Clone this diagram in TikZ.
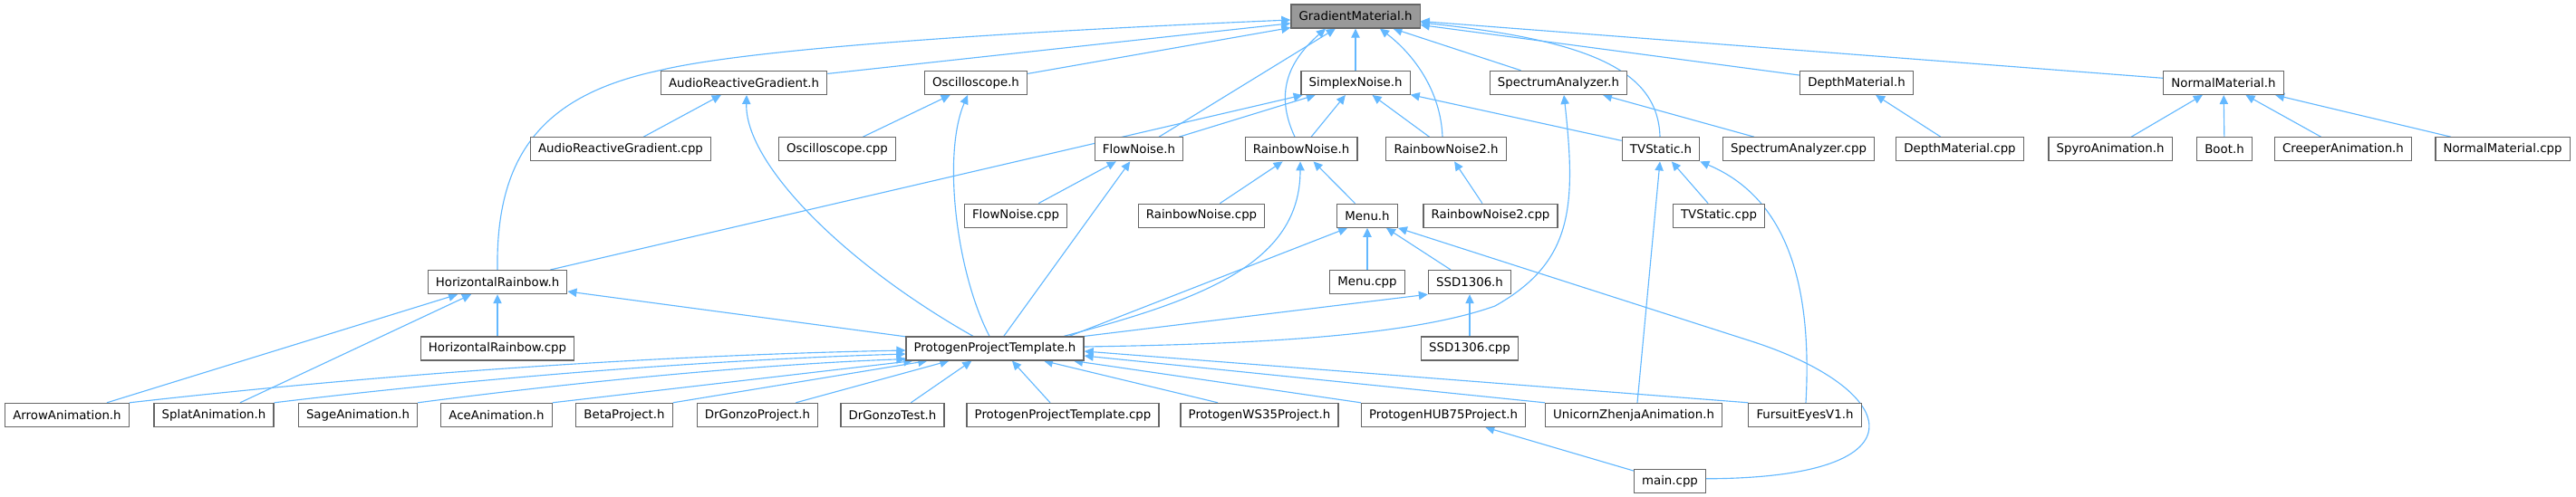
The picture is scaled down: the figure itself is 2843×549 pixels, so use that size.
\documentclass[tikz,border=0pt]{standalone}
\usepackage{fontspec}
\setmainfont{DejaVu Sans}
\usetikzlibrary{arrows.meta,calc}
\definecolor{edgeblue}{RGB}{99,184,255}
\definecolor{boxborder}{RGB}{102,102,102}
\definecolor{rootfill}{RGB}{153,153,153}
\pgfdeclarelayer{bg}
\pgfsetlayers{bg,main}
\begin{document}
\begin{tikzpicture}[x=0.75pt,y=-0.75pt,
  box/.style={draw=boxborder, line width=0.9pt, fill=white, minimum height=19.5pt,
    inner xsep=6.5pt, inner ysep=0pt, font=\fontsize{10pt}{12pt}\selectfont},
  root/.style={box, fill=rootfill},
  edge/.style={draw=edgeblue, line width=0.85pt, -{Triangle[length=7.5pt,width=7pt]}}]
\useasboundingbox (0,0) rectangle (2843,549);
% row 0
\node[root] (gm) at (1496,18) {GradientMaterial.h};
% row 1
\node[box] (argh) at (821,91.4) {AudioReactiveGradient.h};
\node[box] (osch) at (1077,91.4) {Oscilloscope.h};
\node[box] (snh) at (1496,91.4) {SimplexNoise.h};
\node[box] (sah) at (1720,91.4) {SpectrumAnalyzer.h};
\node[box] (dmh) at (2049,91.4) {DepthMaterial.h};
\node[box] (nmh) at (2454,91.4) {NormalMaterial.h};
% row 2
\node[box] (argc) at (685,164.8) {AudioReactiveGradient.cpp};
\node[box] (oscc) at (924,164.8) {Oscilloscope.cpp};
\node[box] (fnh) at (1257,164.8) {FlowNoise.h};
\node[box] (rnh) at (1436,164.8) {RainbowNoise.h};
\node[box] (rn2h) at (1596,164.8) {RainbowNoise2.h};
\node[box] (tvh) at (1833,164.8) {TVStatic.h};
\node[box] (sac) at (1985,164.8) {SpectrumAnalyzer.cpp};
\node[box] (dmc) at (2163,164.8) {DepthMaterial.cpp};
\node[box] (spyro) at (2329,164.8) {SpyroAnimation.h};
\node[box] (boot) at (2455,164.8) {Boot.h};
\node[box] (creeper) at (2586,164.8) {CreeperAnimation.h};
\node[box] (nmc) at (2762,164.8) {NormalMaterial.cpp};
% row 3
\node[box] (fnc) at (1121,238.2) {FlowNoise.cpp};
\node[box] (rnc) at (1326,238.2) {RainbowNoise.cpp};
\node[box] (menuh) at (1509,238.2) {Menu.h};
\node[box] (rn2c) at (1645,238.2) {RainbowNoise2.cpp};
\node[box] (tvc) at (1897,238.2) {TVStatic.cpp};
% row 4
\node[box] (hrh) at (549,311.6) {HorizontalRainbow.h};
\node[box] (menuc) at (1509,311.6) {Menu.cpp};
\node[box] (ssdh) at (1622,311.6) {SSD1306.h};
% row 5
\node[box] (hrc) at (549,385) {HorizontalRainbow.cpp};
\node[box] (ppth) at (1098,385) {ProtogenProjectTemplate.h};
\node[box] (ssdc) at (1622,385) {SSD1306.cpp};
% row 6
\node[box] (arrow) at (74,458.4) {ArrowAnimation.h};
\node[box] (splat) at (236,458.4) {SplatAnimation.h};
\node[box] (sage) at (395,458.4) {SageAnimation.h};
\node[box] (ace) at (548,458.4) {AceAnimation.h};
\node[box] (beta) at (689,458.4) {BetaProject.h};
\node[box] (drgp) at (836,458.4) {DrGonzoProject.h};
\node[box] (drgt) at (985,458.4) {DrGonzoTest.h};
\node[box] (pptc) at (1173,458.4) {ProtogenProjectTemplate.cpp};
\node[box] (ws35) at (1390,458.4) {ProtogenWS35Project.h};
\node[box] (hub75) at (1593,458.4) {ProtogenHUB75Project.h};
\node[box] (unicorn) at (1803,458.4) {UnicornZhenjaAnimation.h};
\node[box] (fursuit) at (1992,458.4) {FursuitEyesV1.h};
% row 7
\node[box] (mainc) at (1843,531.8) {main.cpp};

\begin{pgfonlayer}{bg}
% children of GradientMaterial.h
\draw[edge] (argh) -- (gm);
\draw[edge] (osch) -- (gm);
\draw[edge] (snh) -- (gm);
\draw[edge] (sah) -- (gm);
\draw[edge] (dmh) -- (gm);
\draw[edge] (nmh) -- (gm);
\draw[edge] (fnh) -- (gm);
\draw[edge] (hrh.north) .. controls (547,170) and (600,105) .. (727,78)
  .. controls (800,60) and (1000,40) .. ($(gm.west)+(0,4)$);
\draw[edge] ($(rnh.north)+(-7,0)$) .. controls (1405,100) and (1425,65) .. ($(gm.south)+(-33,0)$);
\draw[edge] ($(rn2h.north)+(-4,0)$) .. controls (1590,100) and (1560,60) .. ($(gm.south)+(27,0)$);
\draw[edge] ($(tvh.north)+(-1,0)$) .. controls (1830,80) and (1760,45) .. ($(gm.east)+(0,7)$);
% SimplexNoise.h
\draw[edge] (fnh) -- (snh);
\draw[edge] (rnh) -- (snh);
\draw[edge] (rn2h) -- (snh);
\draw[edge] (tvh) -- (snh);
\draw[edge] (hrh) -- (snh);
% AudioReactiveGradient.h
\draw[edge] (argc) -- (argh);
\draw[edge] ($(ppth.north)+(-24,0)$) .. controls (930,290) and (822,180) .. ($(argh.south)+(3,0)$);
% Oscilloscope.h
\draw[edge] (oscc) -- (osch);
\draw[edge] ($(ppth.north)+(-6,0)$) .. controls (1055,300) and (1040,170) .. ($(osch.south)+(-9,0)$);
% SpectrumAnalyzer.h
\draw[edge] (sac) -- (sah);
\draw[edge] ($(ppth.east)+(0,-2)$) .. controls (1400,380) and (1560,370) .. (1650,338)
  .. controls (1735,290) and (1740,230) .. ($(sah.south)+(6,0)$);
% DepthMaterial.h, NormalMaterial.h
\draw[edge] (dmc) -- (dmh);
\draw[edge] (spyro) -- (nmh);
\draw[edge] (boot) -- (nmh);
\draw[edge] (creeper) -- (nmh);
\draw[edge] (nmc) -- (nmh);
% FlowNoise.h
\draw[edge] (fnc) -- (fnh);
\draw[edge] (ppth) -- (fnh);
% RainbowNoise.h
\draw[edge] (rnc) -- (rnh);
\draw[edge] (menuh) -- (rnh);
\draw[edge] ($(ppth.north)+(76,0)$) .. controls (1330,330) and (1435,290) .. ($(rnh.south)+(-1,0)$);
% RainbowNoise2.h, TVStatic.h
\draw[edge] (rn2c) -- (rn2h);
\draw[edge] (tvc) -- (tvh);
\draw[edge] ($(unicorn.north)+(4,0)$) -- ($(tvh.south)+(-1,0)$);
\draw[edge] ($(fursuit.north)+(1,0)$) .. controls (2000,320) and (1975,220) .. (tvh.south east);
% Menu.h
\draw[edge] (menuc) -- (menuh);
\draw[edge] (ssdh) -- (menuh);
\draw[edge] ($(ppth.north)+(82,0)$) -- ($(menuh.south west)+(12,0)$);
\draw[edge] ($(mainc.east)+(0,-3)$) .. controls (2135,528) and (2095,428) .. (1930,376) -- (menuh.south east);
% SSD1306.h
\draw[edge] (ssdc) -- (ssdh);
\draw[edge] (ppth.north east) -- (ssdh.south west);
% HorizontalRainbow.h
\draw[edge] (hrc) -- (hrh);
\draw[edge] (arrow) -- (hrh);
\draw[edge] (splat) -- (hrh);
\draw[edge] (ppth) -- (hrh);
% ProtogenProjectTemplate.h
\draw[edge] (arrow.north east) .. controls (450,410) and (750,392) .. ($(ppth.west)+(0,2)$);
\draw[edge] (splat.north east) .. controls (550,415) and (800,397) .. ($(ppth.west)+(0,6)$);
\draw[edge] (sage.north east) .. controls (650,420) and (850,402) .. ($(ppth.south west)+(0,-2)$);
\draw[edge] (ace.north east) -- ($(ppth.south west)+(8,0)$);
\draw[edge] (beta.north east) -- ($(ppth.south west)+(24,0)$);
\draw[edge] ($(drgp.north east)+(-25,0)$) -- ($(ppth.south west)+(48,0)$);
\draw[edge] ($(drgt.north west)+(78,0)$) -- ($(ppth.south west)+(73,0)$);
\draw[edge] ($(pptc.north)+(-14,0)$) -- ($(ppth.south)+(19,0)$);
\draw[edge] ($(ws35.north)+(-46,0)$) -- ($(ppth.south)+(54,0)$);
\draw[edge] (hub75.north west) -- ($(ppth.south)+(87,0)$);
\draw[edge] (unicorn.north west) -- ($(ppth.east)+(0,8)$);
\draw[edge] (fursuit.north west) -- ($(ppth.east)+(0,3)$);
% ProtogenHUB75Project.h
\draw[edge] (mainc) -- (hub75);
\end{pgfonlayer}
\end{tikzpicture}
\end{document}
